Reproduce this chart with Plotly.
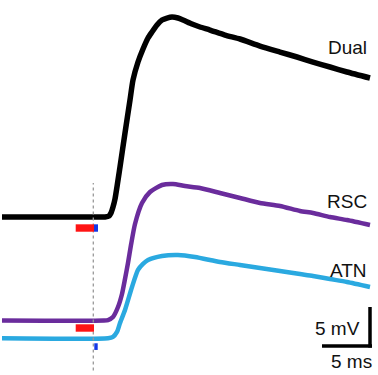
import plotly.graph_objects as go

# ---- data (time in ms relative to stimulus, voltage in mV relative to baseline) ----
dual_t = [-9.15, 0.65, 1.15, 1.55, 1.75, 1.95, 2.15, 2.65, 3.15, 3.65, 3.95, 4.45, 4.95, 5.45, 5.85,
          6.35, 6.85, 7.35, 7.85, 8.45, 8.95, 9.85, 10.65, 11.65, 13.15, 14.65, 16.65, 18.65,
          20.35, 21.95, 23.65, 25.35, 27.65]
dual_v = [0, 0, 0, 0.13, 0.51, 1.28, 2.31, 6.41, 10.77, 15.0, 17.56, 19.87, 21.54, 22.95, 23.72,
          24.62, 25.26, 25.51, 25.64, 25.51, 25.26, 24.74, 24.36, 23.97, 23.33, 22.82, 21.92, 21.15,
          20.51, 19.87, 19.23, 18.59, 17.82]

rsc_t = [-9.15, 1.05, 1.45, 1.95, 2.45, 2.85, 3.15, 3.45, 3.75, 4.15, 4.85, 5.65, 6.85, 7.95, 9.15,
         10.65, 12.65, 14.65, 16.65, 18.65, 20.65, 21.95, 23.65, 25.35, 27.65]
rsc_v = [0, 0, 0.06, 0.45, 1.73, 3.40, 5.32, 7.37, 9.68, 12.37, 15.06, 16.47, 17.37, 17.50, 17.24,
         16.99, 16.35, 15.71, 15.06, 14.68, 14.04, 13.78, 13.27, 12.88, 12.24]

atn_t = [-9.15, 1.45, 1.95, 2.35, 2.65, 3.15, 3.85, 4.45, 4.95, 5.45, 6.85, 8.45, 10.15, 12.65,
         14.65, 16.65, 18.65, 20.65, 21.95, 23.65, 25.35, 27.65]
atn_v = [0, 0, 0.17, 0.81, 1.96, 3.63, 6.58, 8.76, 9.53, 10.04, 10.55, 10.68, 10.42, 9.78,
         9.40, 9.01, 8.63, 8.24, 7.99, 7.60, 7.22, 6.58]

trace_names = ["Dual", "RSC", "ATN"]
trace_offsets = [-27.82, -41.09, -43.37]   # display offsets (mV)
trace_colors = ["#000000", "#6a2c9c", "#2aa9e0"]
trace_widths = [5.5, 4.5, 4.5]

# stimulus markers: (start ms, end ms)
red_stim = (-1.78, 0.05)
blue_stim = (0.05, 0.45)

scale_ms = 5
scale_mv = 5

fig = go.Figure()
series = [(dual_t, dual_v), (rsc_t, rsc_v), (atn_t, atn_v)]
for (t, v), name, off, col, w in zip(series, trace_names, trace_offsets, trace_colors, trace_widths):
    fig.add_trace(go.Scatter(
        x=t, y=[vv + off for vv in v], mode="lines",
        line=dict(color=col, width=w, shape="spline", smoothing=0.6),
        hoverinfo="skip", showlegend=False))

shapes = []
# dashed stimulus onset line
shapes.append(dict(type="line", x0=-0.02, x1=-0.02, y0=-47.5, y1=-23.46,
                   line=dict(color="#999999", width=1.3, dash="dot"), layer="above"))
# stimulus bars near Dual
shapes.append(dict(type="rect", x0=red_stim[0], x1=red_stim[1], y0=-29.71, y1=-28.76,
                   fillcolor="#ff1414", line=dict(width=0), layer="above"))
shapes.append(dict(type="rect", x0=blue_stim[0], x1=blue_stim[1], y0=-29.71, y1=-28.76,
                   fillcolor="#1438e6", line=dict(width=0), layer="above"))
# stimulus bars near RSC / ATN
shapes.append(dict(type="rect", x0=red_stim[0], x1=red_stim[1], y0=-42.53, y1=-41.58,
                   fillcolor="#ff1414", line=dict(width=0), layer="above"))
shapes.append(dict(type="rect", x0=blue_stim[0] + 0.03, x1=blue_stim[1] - 0.03, y0=-44.87, y1=-44.01,
                   fillcolor="#1438e6", line=dict(width=0), layer="above"))
# scale bar
sb_x1 = 27.65
sb_y0 = -44.36
shapes.append(dict(type="line", x0=sb_x1 - scale_ms + 0.2, x1=sb_x1 + 0.2, y0=sb_y0, y1=sb_y0,
                   line=dict(color="#000000", width=3.5)))
shapes.append(dict(type="line", x0=sb_x1, x1=sb_x1, y0=sb_y0 - 0.2, y1=sb_y0 + scale_mv,
                   line=dict(color="#000000", width=3.5)))

font = dict(family="Liberation Sans, Arial, sans-serif", size=19, color="#111111")
annotations = [
    dict(x=27.55, y=-6.03, text="Dual", xanchor="right", yanchor="middle"),
    dict(x=27.55, y=-25.83, text="RSC", xanchor="right", yanchor="middle"),
    dict(x=27.55, y=-34.62, text="ATN", xanchor="right", yanchor="middle"),
    dict(x=26.85, y=-42.18, text="5 mV", xanchor="right", yanchor="middle"),
    dict(x=25.75, y=-46.35, text="5 ms", xanchor="center", yanchor="middle"),
]
for a in annotations:
    a.update(showarrow=False, font=font, xref="x", yref="y")

fig.update_layout(
    width=378, height=375,
    margin=dict(l=0, r=0, t=0, b=0),
    paper_bgcolor="white", plot_bgcolor="white",
    xaxis=dict(range=[-9.35, 28.45], visible=False, fixedrange=True),
    yaxis=dict(range=[-48.08, 0], visible=False, fixedrange=True),
    shapes=shapes, annotations=annotations, showlegend=False,
)
fig.write_html("out.html", config={"displayModeBar": False},
               post_script="document.body.style.margin='0';document.body.style.overflow='hidden';")
